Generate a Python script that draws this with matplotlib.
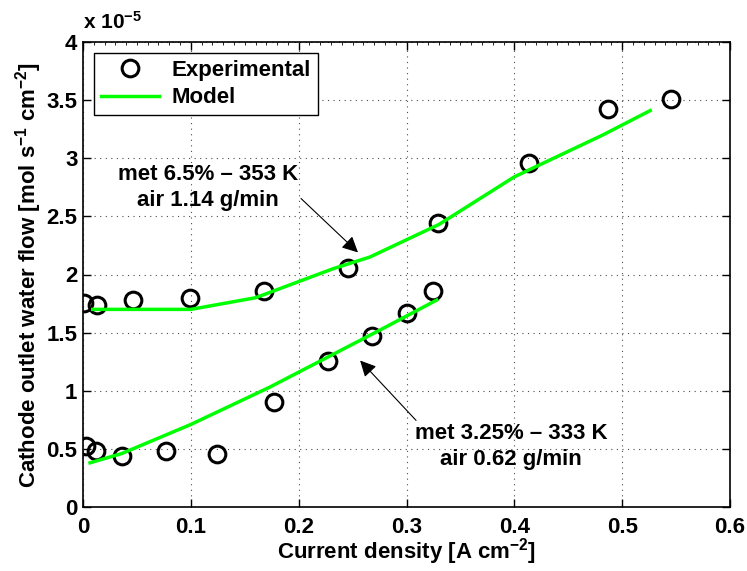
import numpy as np
import matplotlib.pyplot as plt
from matplotlib.ticker import MultipleLocator

plt.rcParams['font.family'] = 'Liberation Sans'
plt.rcParams['font.weight'] = 'bold'
plt.rcParams['mathtext.fontset'] = 'custom'
plt.rcParams['mathtext.rm'] = 'Liberation Sans:bold'
plt.rcParams['mathtext.bf'] = 'Liberation Sans:bold'
plt.rcParams['mathtext.default'] = 'bf'

# Experimental data, values in units of 1e-5 mol s^-1 cm^-2
exp_hi_x = [0.001, 0.013, 0.046, 0.099, 0.168, 0.246, 0.329, 0.414, 0.487, 0.545]
exp_hi_y = [1.755, 1.74, 1.78, 1.80, 1.86, 2.06, 2.44, 2.96, 3.42, 3.51]
exp_lo_x = [0.003, 0.012, 0.036, 0.077, 0.124, 0.177, 0.227, 0.268, 0.300, 0.325]
exp_lo_y = [0.525, 0.48, 0.44, 0.48, 0.456, 0.90, 1.26, 1.47, 1.67, 1.86]

# Model curves
mod_hi_x = [0.009, 0.05, 0.1, 0.16, 0.232, 0.266, 0.330, 0.4, 0.482, 0.526]
mod_hi_y = [1.70, 1.70, 1.70, 1.80, 2.05, 2.15, 2.43, 2.84, 3.20, 3.41]
mod_lo_x = [0.0065, 0.036, 0.1, 0.173, 0.275, 0.328]
mod_lo_y = [0.38, 0.46, 0.71, 1.03, 1.52, 1.78]

xticks = [0, 0.1, 0.2, 0.3, 0.4, 0.5, 0.6]
xticklabels = ['0', '0.1', '0.2', '0.3', '0.4', '0.5', '0.6']
yticks = [0, 0.5, 1, 1.5, 2, 2.5, 3, 3.5, 4]
yticklabels = ['0', '0.5', '1', '1.5', '2', '2.5', '3', '3.5', '4']

fs = 16
fig = plt.figure(figsize=(7.47, 5.71), dpi=100)
ax = fig.add_axes([83 / 747, 1 - 507 / 571, 647 / 747, 465 / 571])

green = '#00ff00'
ax.plot(exp_hi_x, exp_hi_y, 'o', mfc='none', mec='black', ms=12, mew=2.2, label='Experimental')
ax.plot(mod_hi_x, mod_hi_y, '-', color=green, lw=2.5, label='Model')
ax.plot(exp_lo_x, exp_lo_y, 'o', mfc='none', mec='black', ms=12, mew=2.2)
ax.plot(mod_lo_x, mod_lo_y, '-', color=green, lw=2.5)

ax.set_xlim(0, 0.6)
ax.set_ylim(0, 4)
ax.set_xticks(xticks)
ax.set_xticklabels(xticklabels, fontsize=fs, fontweight='bold')
ax.set_yticks(yticks)
ax.set_yticklabels(yticklabels, fontsize=fs, fontweight='bold')
ax.xaxis.set_minor_locator(MultipleLocator(0.01))
ax.tick_params(which='major', direction='in', top=True, right=True, length=6, width=1)
ax.tick_params(axis='x', which='major', pad=7)
ax.tick_params(axis='y', which='major', pad=4)
ax.tick_params(which='minor', axis='x', direction='in', top=True, bottom=False, length=2.5, width=0.6)
ax.grid(True, which='major', linestyle=(0, (1, 4)), color='black', lw=0.8, alpha=0.7)
for s in ax.spines.values():
    s.set_linewidth(1.2)

ax.set_xlabel('Current density [A cm$^{-2}$]', fontsize=fs, fontweight='bold', labelpad=-1)
ax.set_ylabel('Cathode outlet water flow [mol s$^{-1}$ cm$^{-2}$]', fontsize=fs,
              fontweight='bold', labelpad=2)
ax.text(0, 1.02, 'x 10$^{-5}$', transform=ax.transAxes, fontsize=15, fontweight='bold',
        ha='left', va='bottom')

ax.annotate('met 6.5% \u2013 353 K\nair 1.14 g/min', xy=(0.255, 2.19), xytext=(0.116, 2.75),
            ha='center', va='center', fontsize=fs, fontweight='bold', linespacing=1.3,
            arrowprops=dict(arrowstyle='-|>', color='black', lw=0.8, mutation_scale=24,
                            shrinkA=0, shrinkB=0, relpos=(0.95, 0.5)))
ax.annotate('met 3.25% \u2013 333 K\nair 0.62 g/min', xy=(0.257, 1.26), xytext=(0.397, 0.52),
            ha='center', va='center', fontsize=fs, fontweight='bold', linespacing=1.3,
            arrowprops=dict(arrowstyle='-|>', color='black', lw=0.8, mutation_scale=24,
                            shrinkA=0, shrinkB=0, relpos=(0.02, 1.0)))

leg = ax.legend(loc='upper left', prop={'family': 'Liberation Sans', 'size': fs, 'weight': 'bold'},
                fancybox=False, edgecolor='black', framealpha=1, borderpad=0.3,
                handlelength=2.6, labelspacing=0.3, borderaxespad=0.5, handletextpad=0.6)
leg.get_frame().set_linewidth(1)

fig.savefig('out.png', dpi=100)
